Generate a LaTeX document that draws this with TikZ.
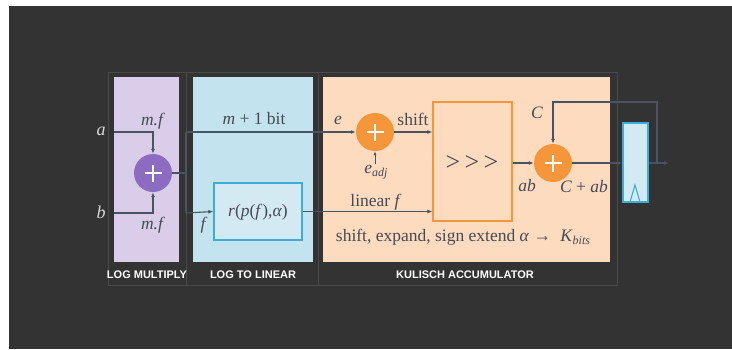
\documentclass[tikz,border=0pt]{standalone}
\usepackage{fontspec}
\setmainfont{Liberation Serif}
\newfontfamily\labfont{Liberation Sans}
\usetikzlibrary{arrows.meta}
\definecolor{bgdark}{HTML}{333333}
\definecolor{framegray}{HTML}{4A4A4A}
\definecolor{purpbox}{HTML}{D9CDE9}
\definecolor{bluebox}{HTML}{C3E4EE}
\definecolor{orbox}{HTML}{FDDBBF}
\definecolor{purpc}{HTML}{8B6CC0}
\definecolor{orc}{HTML}{F5963A}
\definecolor{wirec}{HTML}{4B5263}
\definecolor{txtc}{HTML}{454A55}
\definecolor{intxt}{HTML}{D8D8D8}
\definecolor{rfill}{HTML}{D3EAF3}
\definecolor{rborder}{HTML}{3AAED6}
\tikzset{
  panel/.style={draw=none, inner sep=0pt},
  frameline/.style={draw=framegray, line width=0.8pt},
  adder/.style={circle, minimum size=38pt, inner sep=0pt, draw=none},
  plusline/.style={white, line width=2pt},
  wire/.style={draw=wirec, line width=1.1pt},
  arr/.style={-{Latex[length=5pt,width=4pt]}},
  lbl/.style={text=txtc, font=\fontsize{17.5}{19}\selectfont, inner sep=0pt},
  sec/.style={text=white, font=\labfont\bfseries\fontsize{11}{12}\selectfont, inner sep=0pt}
}
\begin{document}
\begin{tikzpicture}[x=1pt,y=-1pt]
\useasboundingbox (0,0) rectangle (732,349);
\fill[white] (0,0) rectangle (732,349);
\fill[bgdark] (9,6) rectangle (732,349);
% frame
\draw[frameline] (108,72) rectangle (617,285);
\draw[frameline] (186,72) -- (186,285);
\draw[frameline] (318,72) -- (318,285);
% panels
\fill[purpbox] (114,77) rectangle (179,262);
\fill[bluebox] (193,77) rectangle (313,262);
\fill[orbox] (323,77) rectangle (610,262);
% section labels
\node[sec] (s1) at (147,275) {LOG MULTIPLY};
\node[sec] (s2) at (253,275) {LOG TO LINEAR};
\node[sec] (s3) at (465,275) {KULISCH ACCUMULATOR};
% adders
\node[adder, fill=purpc] (pm) at (153,173) {};
\node[adder, fill=orc] (a1) at (375,132) {};
\node[adder, fill=orc] (a2) at (553,163) {};
\foreach \n in {pm,a1,a2}{
  \draw[plusline] (\n.center) +(-8.5,0) -- +(8.5,0);
  \draw[plusline] (\n.center) +(0,-8.5) -- +(0,8.5);
}
% r box
\node[draw=rborder, fill=rfill, line width=1.2pt, minimum width=88pt, minimum height=57pt, inner sep=0pt] (rb) at (258,211.5) {};
\node[lbl] (rtxt) at (258,212) {\textit{r}(\textit{p}(\textit{f}),\textit{α})};
% shifter box
\node[draw=orc, fill=orbox, line width=1.2pt, minimum width=79pt, minimum height=119pt, inner sep=0pt] (sh) at (472.5,161.5) {};
\node[text=txtc, font=\fontsize{26}{28}\selectfont, inner sep=0pt] (shtxt) at (472,163) {>\,>\,>};
% register
\node[draw=rborder, fill=rfill, line width=1.2pt, minimum width=25pt, minimum height=79pt, inner sep=0pt] (reg) at (635.5,162.5) {};
\draw[draw=rborder, line width=1.1pt] (630,202) -- (635,185) -- (640,202);
% inputs
\node[lbl, text=intxt, font=\itshape\fontsize{18}{19}\selectfont] (la) at (101,131) {a};
\node[lbl, text=intxt, font=\itshape\fontsize{18}{19}\selectfont] (lb) at (101,212) {b};
\coordinate (ain) at (114,132);
\coordinate (bin) at (114,213);
\draw[wire,arr] (ain) -- (153,132) -- (pm.north);
\draw[wire,arr] (bin) -- (153,213) -- (pm.south);
\node[lbl] (mf1) at (153,121) {\textit{m.f}};
\node[lbl] (mf2) at (153,225) {\textit{m.f}};
% split
\coordinate (sp) at (186,173);
\coordinate (spu) at (186,132);
\coordinate (spd) at (186,213);
\draw[wire] (pm.east) -- (sp);
\draw[wire] (spu) -- (spd);
\draw[wire,arr] (spu) -- (a1.west);
\draw[wire,arr] (spd) -- (rb.west);
\node[lbl] (mb) at (254,119) {\textit{m} + 1 bit};
\node[lbl] (lf) at (204,225) {\textit{f}};
\node[lbl] (le) at (338,120) {\textit{e}};
% e_adj
\node[lbl] (eadj) at (376,172) {\textit{e}\raisebox{-3.5pt}{\fontsize{12}{13}\selectfont\textit{adj}}};
\coordinate (eadjt) at (375,164);
\draw[wire, line width=0.8pt, -{Latex[length=4pt,width=3pt]}] (eadjt) -- (a1.south);
% shift
\node[lbl] (lsh) at (413,119) {shift};
\draw[wire,arr] (a1.east) -- (sh.west |- a1.east);
\draw[wire,arr] (rb.east) -- (sh.west |- rb.east);
\node[lbl] (llin) at (376,202) {linear \textit{f}};
\node[lbl] (lext) at (463,237) {shift, expand, sign extend \textit{α} → \;\textit{K}\raisebox{-3.5pt}{\fontsize{12}{13}\selectfont\textit{bits}}};
% to adder 2
\draw[wire,arr] (sh.east |- a2.west) -- (a2.west);
\node[lbl] (lab) at (527,186) {\textit{ab}};
\node[lbl] (lcab) at (584,187) {\textit{C} + \textit{ab}};
\node[lbl] (lc) at (537,113) {\textit{C}};
\draw[wire,arr] (a2.east) -- (reg.west |- a2.east);
% output & feedback
\coordinate (fb) at (657,163);
\coordinate (out) at (669,163);
\draw[wire,arr] (reg.east |- a2.east) -- (out);
\draw[wire,arr] (fb) -- (657,102) -| (a2.north);
\end{tikzpicture}
\end{document}
